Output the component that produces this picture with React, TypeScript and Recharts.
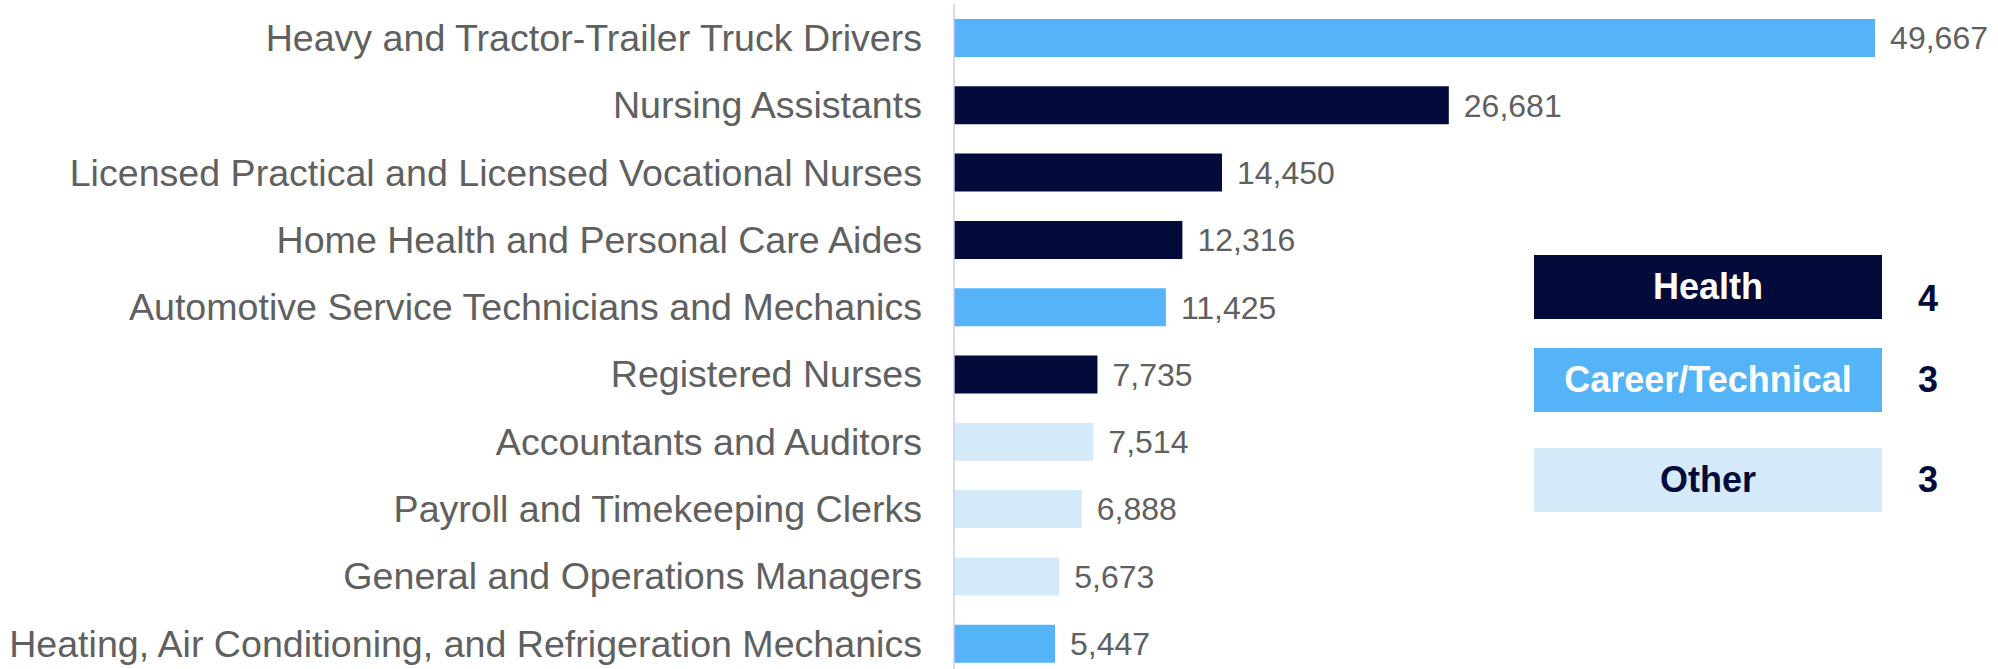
import React from 'react';
import { BarChart, Bar, XAxis, YAxis, Cell, LabelList } from 'recharts';

const occupations = [
  'Heavy and Tractor-Trailer Truck Drivers',
  'Nursing Assistants',
  'Licensed Practical and Licensed Vocational Nurses',
  'Home Health and Personal Care Aides',
  'Automotive Service Technicians and Mechanics',
  'Registered Nurses',
  'Accountants and Auditors',
  'Payroll and Timekeeping Clerks',
  'General and Operations Managers',
  'Heating, Air Conditioning, and Refrigeration Mechanics',
];

const openings = [49667, 26681, 14450, 12316, 11425, 7735, 7514, 6888, 5673, 5447];

const groups = [
  'Career/Technical',
  'Health',
  'Health',
  'Health',
  'Career/Technical',
  'Health',
  'Other',
  'Other',
  'Other',
  'Career/Technical',
];

const legendGroups = ['Health', 'Career/Technical', 'Other'];

const groupColors: Record<string, string> = {
  Health: '#030B3B',
  'Career/Technical': '#55B4F8',
  Other: '#D5EAF9',
};
const legendTextColors: Record<string, string> = {
  Health: '#FFFFFF',
  'Career/Technical': '#FFFFFF',
  Other: '#030B3B',
};

const data = occupations.map((name, i) => ({ name, value: openings[i], group: groups[i] }));
const groupCounts = legendGroups.map((g) => groups.filter((x) => x === g).length);

const FONT = '"Liberation Sans", Arial, sans-serif';

export default function App() {
  const legendTops = [255, 348, 448];
  return (
    <div style={{ position: 'absolute', left: 0, top: 0, width: 1998, height: 669, overflow: 'hidden', background: '#fff' }}>
      <BarChart
        width={1998}
        height={680}
        data={data}
        layout="vertical"
        margin={{ top: 4, right: 24, bottom: 3, left: 0 }}
      >
        <XAxis type="number" domain={[0, 55000]} hide />
        <YAxis
          type="category"
          dataKey="name"
          width={954}
          tickLine={false}
          tickSize={6}
          tickMargin={26}
          axisLine={{ stroke: '#C7CBF5', strokeWidth: 1.5 }}
          tick={{ fontSize: 37.6, fill: '#606060', fontFamily: FONT }}
          interval={0}
        />
        <Bar dataKey="value" barSize={38} isAnimationActive={false}>
          {data.map((d, i) => (
            <Cell key={i} fill={groupColors[d.group]} />
          ))}
          <LabelList
            dataKey="value"
            position="right"
            offset={15}
            formatter={(v: any) => Number(v).toLocaleString('en-US')}
            style={{ fontSize: 32, fill: '#606060', fontFamily: FONT }}
          />
        </Bar>
      </BarChart>
      {legendGroups.map((g, i) => (
        <React.Fragment key={g}>
          <div
            style={{
              position: 'absolute',
              left: 1534,
              top: legendTops[i],
              width: 348,
              height: 64,
              background: groupColors[g],
              color: legendTextColors[g],
              fontFamily: FONT,
              fontWeight: 'bold',
              fontSize: 36,
              display: 'flex',
              alignItems: 'center',
              justifyContent: 'center',
            }}
          >
            {g}
          </div>
          <div
            style={{
              position: 'absolute',
              left: 1900,
              width: 56,
              top: legendTops[i] + (i === 0 ? 12 : 0),
              height: 64,
              color: '#030B3B',
              fontFamily: FONT,
              fontWeight: 'bold',
              fontSize: 36,
              display: 'flex',
              alignItems: 'center',
              justifyContent: 'center',
            }}
          >
            {groupCounts[i]}
          </div>
        </React.Fragment>
      ))}
    </div>
  );
}
